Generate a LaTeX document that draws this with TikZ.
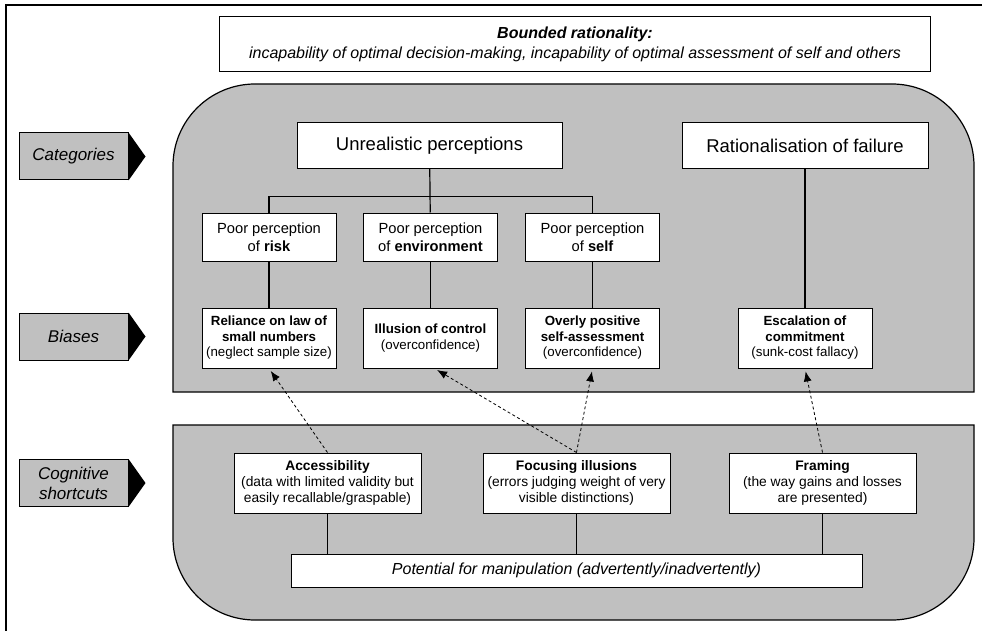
\documentclass[tikz,border=0pt]{standalone}
\usepackage{fontspec}
\setmainfont{Liberation Sans}
\usetikzlibrary{arrows.meta,positioning}
\definecolor{panelgrey}{RGB}{192,192,192}

\begin{document}
\begin{tikzpicture}
[x=1pt,y=-1pt,
box/.style={shape=rectangle,draw=black,fill=white,line width=1pt,inner sep=0pt,align=center},
catbox/.style={box,minimum height=46pt,font=\fontsize{18.5}{22}\selectfont},
percbox/.style={box,minimum width=134pt,minimum height=48pt,font=\fontsize{14.7}{18}\selectfont},
biasbox/.style={box,minimum width=134pt,minimum height=60pt,font=\fontsize{13.3}{15.5}\selectfont},
cutbox/.style={box,minimum width=187pt,minimum height=60pt,font=\fontsize{13.8}{16}\selectfont},
sidebox/.style={shape=rectangle,draw=black,fill=panelgrey,line width=1pt,minimum width=109pt,minimum height=47pt,inner sep=0pt,align=center,font=\fontsize{17}{20}\selectfont\itshape},
panel/.style={draw=black,fill=panelgrey,line width=1.2pt},
myedge/.style={line width=1.2pt},
dedge/.style={>={Latex[length=10pt,width=8pt]}, line width=0.8pt, dash pattern=on 3pt off 2.5pt, shorten >=3pt}]

\useasboundingbox (0,0) rectangle (982,631);
\draw[line width=2pt] (6,631) -- (6,5) -- (982,5);

\draw[panel] (173,392) -- (173,166) arc[start angle=180,end angle=270,radius=82]
-- (892,84) arc[start angle=270,end angle=360,radius=82] -- (974,392) -- cycle;
\draw[panel] (173,425) -- (974,425) -- (974,538) arc[start angle=0,end angle=90,radius=82]
-- (255,620) arc[start angle=90,end angle=180,radius=82] -- cycle;

\node (bounded) [box,minimum width=711pt,minimum height=55pt,font=\fontsize{16}{19.5}\selectfont] at (575,44.5)
{\textbf{\textit{Bounded rationality:}}\\\textit{incapability of optimal decision-making, incapability of optimal assessment of self and others}};

\node (categories) [sidebox] at (73.5,156.5) {Categories};
\node (biases) [sidebox] at (73.5,336.5) {Biases};
\node (shortcuts) [sidebox] at (73.5,483) {Cognitive\\shortcuts};
\foreach \n in {categories,biases,shortcuts}
\fill (\n.north east) -- ([xshift=17pt]\n.east) -- (\n.south east) -- cycle;

\node (unreal) [catbox,minimum width=265pt] at (429.5,145.5) {Unrealistic perceptions};
\node (failure) [catbox,minimum width=246pt] at (805,146) {Rationalisation of failure};

\node (risk) [percbox] at (269,237) {Poor perception\\of \textbf{risk}};
\node (environment) [percbox,right=26.5pt of risk] {Poor perception\\of \textbf{environment}};
\node (self) [percbox,right=27pt of environment] {Poor perception\\of \textbf{self}};

\node (smallnum) [biasbox,below=46pt of risk] {\textbf{Reliance on law of}\\\textbf{small numbers}\\(neglect sample size)};
\node (control) [biasbox,below=46pt of environment] {\textbf{Illusion of control}\\(overconfidence)};
\node (selfassess) [biasbox,below=46pt of self] {\textbf{Overly positive}\\\textbf{self-assessment}\\(overconfidence)};
\node (escalation) [biasbox,below=138pt of failure] {\textbf{Escalation of}\\\textbf{commitment}\\(sunk-cost fallacy)};

\node (access) [cutbox] at (327.5,483) {\textbf{Accessibility}\\(data with limited validity but\\easily recallable/graspable)};
\node (focusing) [cutbox,right=61pt of access] {\textbf{Focusing illusions}\\(errors judging weight of very\\visible distinctions)};
\node (framing) [cutbox,right=58pt of focusing] {\textbf{Framing}\\(the way gains and losses\\are presented)};
\node (manipulation) [box,minimum width=571pt,minimum height=33pt,font=\fontsize{16}{19}\selectfont\itshape,below=40pt of focusing]
{Potential for manipulation (advertently/inadvertently)};

\draw[myedge] (unreal) -- (environment);
\draw[myedge] (risk.north) -- ++(0,-16) -| (self.north);
\draw[myedge] (risk) -- (smallnum);
\draw[myedge] (environment) -- (control);
\draw[myedge] (self) -- (selfassess);
\draw[myedge] (failure) -- (escalation);
\draw[myedge] (access) -- (access |- manipulation.north);
\draw[myedge] (focusing) -- (focusing |- manipulation.north);
\draw[myedge] (framing) -- (framing |- manipulation.north);

\draw[dedge,->] (access.north) -- (smallnum.south);
\draw[dedge,->] (focusing.north) -- ([xshift=4pt]control.south);
\draw[dedge,->] (focusing.north) -- (selfassess.south);
\draw[dedge,->] (framing.north) -- (escalation.south);

\end{tikzpicture}
\end{document}
